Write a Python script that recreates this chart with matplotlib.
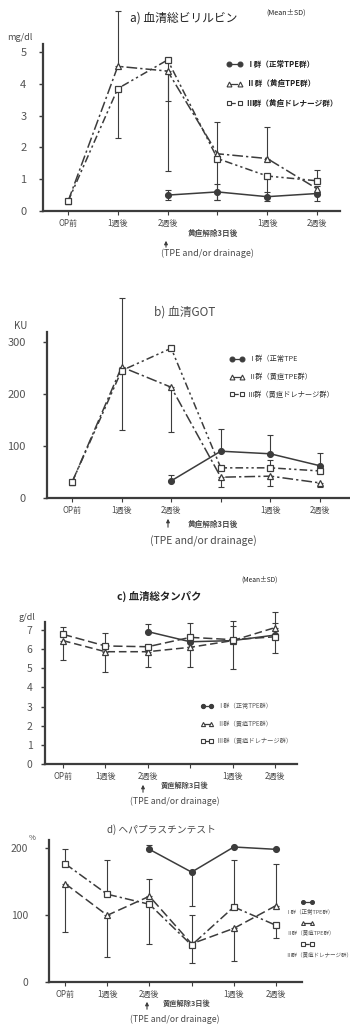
import numpy as np
import matplotlib
matplotlib.use('Agg')
import matplotlib.pyplot as plt
from matplotlib.lines import Line2D

plt.rcParams['font.family'] = ['Noto Sans CJK JP', 'DejaVu Sans']

W, H = 350, 1027
nan = np.nan

x_pos = [0, 1, 2, 3, 4, 5]
x_labels = ['OP前', '1週後', '2週後', '', '1週後', '2週後']
group_labels = ['Ⅰ群（正常TPE群）', 'Ⅱ群（黄疸TPE群）', 'Ⅲ群（黄疸ドレナージ群）']

# a) total bilirubin (mg/dl)
a_I = [nan, nan, 0.5, 0.6, 0.45, 0.55]
a_I_lo = [0, 0, 0.15, 0.25, 0.15, 0.25]
a_I_hi = [0, 0, 0.15, 0.25, 0.15, 0.25]
a_II = [0.3, 4.55, 4.4, 1.8, 1.65, 0.7]
a_II_lo = [0, 0, 3.15, 0, 0, 0]
a_II_hi = [0, 1.75, 0, 1.0, 1.0, 0]
a_III = [0.3, 3.85, 4.75, 1.65, 1.1, 0.95]
a_III_lo = [0, 1.55, 1.3, 1.3, 0.65, 0]
a_III_hi = [0, 0, 0, 0, 0, 0.35]

# b) GOT (KU)
b_I = [nan, nan, 33, 90, 85, 62]
b_I_lo = [0, 0, 0, 0, 0, 0]
b_I_hi = [0, 0, 11, 43, 36, 24]
b_II = [30, 252, 213, 40, 42, 29]
b_II_lo = [0, 0, 86, 19, 19, 8]
b_II_hi = [0, 132, 0, 0, 0, 0]
b_III = [30, 245, 288, 58, 58, 52]
b_III_lo = [0, 114, 0, 0, 0, 0]
b_III_hi = [0, 0, 0, 0, 15, 0]

# c) total protein (g/dl)
c_I = [nan, nan, 6.92, 6.39, 6.45, 6.74]
c_I_lo = [0, 0, 0, 0, 0, 0]
c_I_hi = [0, 0, 0.41, 0, 1.04, 0.65]
c_II = [6.45, 5.87, 5.87, 6.10, 6.45, 7.13]
c_II_lo = [1.02, 1.04, 0.82, 1.01, 1.48, 0]
c_II_hi = [0, 0, 0, 0, 0, 0.83]
c_III = [6.78, 6.17, 6.13, 6.62, 6.5, 6.65]
c_III_lo = [0, 0, 0, 0, 0, 0.83]
c_III_hi = [0.36, 0.66, 0, 0.73, 0.72, 0]

# d) hepaplastin test (%)
d_I = [nan, nan, 198, 164, 201.5, 198]
d_I_lo = [0, 0, 0, 51, 0, 0]
d_I_hi = [0, 0, 6, 0, 0, 0]
d_II = [147, 99.5, 128, 57, 80, 114]
d_II_lo = [73, 62.5, 0, 29, 48, 0]
d_II_hi = [0, 0, 26, 0, 0, 61.6]
d_III = [176.6, 131, 116, 55, 112, 84.6]
d_III_lo = [0, 0, 59, 0, 0, 18.6]
d_III_hi = [21.5, 50.6, 0, 45.5, 69.6, 0]

INK = '#3c3c3c'
TXT = '#4a4a4a'

fig = plt.figure(figsize=(W / 100, H / 100), dpi=100)
fig.patch.set_facecolor('white')


def fx(x):
    return x / W


def fy(y):
    return 1 - y / H


def make_ax(x0, dx, y0, dy, xlim, ylim, ytop, yticks, yfs, ypad):
    left = x0 + xlim[0] * dx
    right = x0 + xlim[1] * dx
    top = y0 - ylim[1] * dy
    ax = fig.add_axes([fx(left), fy(y0), (right - left) / W, (y0 - top) / H])
    ax.set_xlim(*xlim)
    ax.set_ylim(*ylim)
    ax.patch.set_alpha(0)
    for s in ['top', 'right']:
        ax.spines[s].set_visible(False)
    for s in ['left', 'bottom']:
        ax.spines[s].set_linewidth(1.6)
        ax.spines[s].set_color(INK)
    ax.spines['left'].set_bounds(0, ytop)
    ax.set_xticks(x_pos)
    ax.set_xticklabels(x_labels, fontsize=5.8, color=TXT)
    ax.set_yticks(yticks)
    ax.tick_params(axis='y', labelsize=yfs, labelcolor='#555555', length=3,
                   width=1, color=INK, pad=ypad)
    ax.tick_params(axis='x', length=3, width=0.8, color=INK, pad=3)
    return ax


def draw_group(ax, y, lo, hi, style, marker, filled, lw=1.1):
    y = np.array(y, dtype=float)
    lo = np.array(lo, dtype=float)
    hi = np.array(hi, dtype=float)
    x = np.array(x_pos, dtype=float)
    m = (lo + hi) > 0
    if m.any():
        ax.errorbar(x[m], y[m], yerr=[lo[m], hi[m]], fmt='none', ecolor=INK,
                    elinewidth=0.8, capsize=2, capthick=0.8, clip_on=False, zorder=2)
    ax.plot(x, y, linestyle=style, color=INK, lw=lw, marker=marker, ms=4.2,
            mfc=INK if filled else 'white', mec=INK, mew=0.9, clip_on=False, zorder=3)


styles = [('-', 'o', True), ((0, (7, 2, 1.5, 2)), '^', False), ((0, (5, 2, 1.5, 2, 1.5, 2)), 's', False)]


def handles(ms=3.5):
    hs = []
    for ls, mk, f in styles:
        hs.append(Line2D([], [], linestyle=ls, color=INK, lw=0.9, marker=mk, ms=ms,
                         mfc=INK if f else 'white', mec=INK, mew=0.8))
    return hs


def footer(ax, xa, y_lab, y_arrow_top, y_arrow_bot, x_jh, y_tpe, x_tpe, fs_jh, fs_tpe):
    fig.text(fx(x_jh), fy(y_lab), '黄疸解除3日後', fontsize=fs_jh, color=TXT,
             ha='center', va='center', fontweight='bold')
    ax.annotate('', xy=(fx(xa), fy(y_arrow_top)), xytext=(fx(xa), fy(y_arrow_bot)),
                xycoords='figure fraction', textcoords='figure fraction',
                arrowprops=dict(arrowstyle='-|>', lw=0.8, color=INK, mutation_scale=5))
    fig.text(fx(x_tpe), fy(y_tpe), '(TPE and/or drainage)', fontsize=fs_tpe, color=TXT,
             ha='center', va='center')


# ---------- a) ----------
ax_a = make_ax(68, 49.8, 211, 31.8, (-0.5, 5.46), (0, 6.4), 5.25, [0, 1, 2, 3, 4, 5], 8, 9)
draw_group(ax_a, a_I, a_I_lo, a_I_hi, *styles[0])
draw_group(ax_a, a_II, a_II_lo, a_II_hi, *styles[1])
draw_group(ax_a, a_III, a_III_lo, a_III_hi, *styles[2])
ax_a.legend(handles(), group_labels, loc='upper left', bbox_to_anchor=(fx(220), fy(53)),
            bbox_transform=fig.transFigure, frameon=False, handlelength=2.0,
            handletextpad=0.6, labelspacing=1.35, numpoints=2,
            prop=dict(size=5.5, weight='bold'), labelcolor='#222222')
fig.text(fx(184), fy(18), 'a) 血清総ビリルビン', fontsize=8.5, ha='center', va='center', color='#222222')
fig.text(fx(286), fy(13), '(Mean±SD)', fontsize=5.2, ha='center', va='center', color='#222222')
fig.text(fx(20), fy(38), 'mg/dl', fontsize=6.5, ha='center', va='center', color=TXT)
footer(ax_a, 166, 233, 238, 250, 213, 253, 207, 5.5, 6.5)

# ---------- b) ----------
ax_b = make_ax(72, 49.6, 498, 0.52, (-0.51, 5.6), (0, 400), 320, [0, 100, 200, 300], 8, 12)
draw_group(ax_b, b_I, b_I_lo, b_I_hi, *styles[0])
draw_group(ax_b, b_II, b_II_lo, b_II_hi, *styles[1])
draw_group(ax_b, b_III, b_III_lo, b_III_hi, *styles[2])
ax_b.legend(handles(), ['Ⅰ群（正常TPE', group_labels[1], group_labels[2]], loc='upper left',
            bbox_to_anchor=(fx(223), fy(349)), bbox_transform=fig.transFigure,
            frameon=False, handlelength=2.0, handletextpad=0.6, labelspacing=1.35,
            numpoints=2, prop=dict(size=5.2), labelcolor='#333333')
fig.text(fx(185), fy(312), 'b) 血清GOT', fontsize=8.5, ha='center', va='center', color=TXT)
fig.text(fx(21), fy(326), 'KU', fontsize=7, ha='center', va='center', color=TXT)
footer(ax_b, 168, 524, 516, 530, 213, 541, 203, 5.5, 7.5)

# ---------- c) ----------
ax_c = make_ax(63, 42.4, 764, 19.13, (-0.42, 5.52), (0, 8.3), 7.4, list(range(8)), 7.5, 6)
draw_group(ax_c, c_I, c_I_lo, c_I_hi, *styles[0])
draw_group(ax_c, c_II, c_II_lo, c_II_hi, (0, (5, 2.5)), '^', False)
draw_group(ax_c, c_III, c_III_lo, c_III_hi, (0, (6, 2.5)), 's', False)
ax_c.legend(handles(3), group_labels, loc='upper left', bbox_to_anchor=(fx(195), fy(697)),
            bbox_transform=fig.transFigure, frameon=False, handlelength=2.0,
            handletextpad=0.6, labelspacing=1.5, numpoints=2,
            prop=dict(size=4.5), labelcolor='#555555')
fig.text(fx(260), fy(580), '(Mean±SD)', fontsize=4.8, ha='center', va='center', color='#222222')
fig.text(fx(159), fy(596), 'c) 血清総タンパク', fontsize=7.5, ha='center', va='center',
         color='#222222', fontweight='bold')
fig.text(fx(27), fy(617), 'g/dl', fontsize=6.5, ha='center', va='center', color=TXT)
footer(ax_c, 143, 785, 782, 795, 185, 801, 175, 5.2, 6.3)

# ---------- d) ----------
ax_d = make_ax(65, 42.2, 982, 0.67, (-0.38, 5.62), (0, 215), 212, [0, 100, 200], 7.5, 12)
draw_group(ax_d, d_I, d_I_lo, d_I_hi, *styles[0])
draw_group(ax_d, d_II, d_II_lo, d_II_hi, (0, (6, 2.5)), '^', False)
draw_group(ax_d, d_III, d_III_lo, d_III_hi, (0, (6, 2, 1.5, 2)), 's', False)
leg_m = ax_d.legend(handles(2.8), ['', '', ''], loc='upper left',
                    bbox_to_anchor=(fx(296), fy(895)), bbox_transform=fig.transFigure,
                    frameon=False, handlelength=2.3, handletextpad=0, labelspacing=2.9,
                    numpoints=2, prop=dict(size=4))
ax_d.add_artist(leg_m)
blank = [Line2D([], [], linestyle='none') for _ in range(3)]
ax_d.legend(blank, group_labels, loc='upper left', bbox_to_anchor=(fx(281), fy(903)),
            bbox_transform=fig.transFigure, frameon=False, handlelength=0,
            handletextpad=0, labelspacing=2.9, prop=dict(size=4), labelcolor='#555555')
fig.text(fx(161), fy(830), 'd) ヘパプラスチンテスト', fontsize=7, ha='center', va='center', color=TXT)
fig.text(fx(32), fy(838), '%', fontsize=5.5, ha='center', va='center', color=TXT)
footer(ax_d, 147, 1003, 999, 1012, 187, 1019, 175, 5.2, 6.3)

fig.savefig('out.png', dpi=100, facecolor='white')
